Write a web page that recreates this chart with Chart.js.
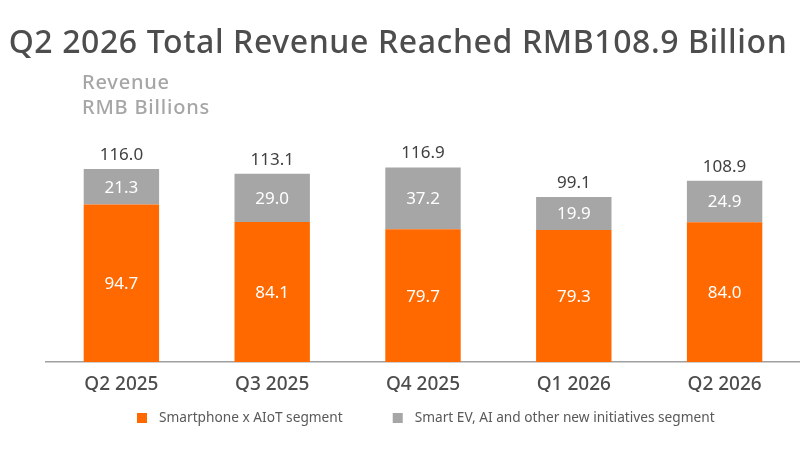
<!DOCTYPE html>
<html>
<head>
<meta charset="utf-8">
<script src="https://cdn.jsdelivr.net/npm/chart.js@4.4.1/dist/chart.umd.min.js"></script>
<style>
  html, body { margin: 0; padding: 0; background: #fff; }
  #wrap { width: 800px; height: 450px; }
</style>
</head>
<body>
<div id="wrap"><canvas id="revChart"></canvas></div>
<script>
// --- data ---
const quarters = ['Q2 2025', 'Q3 2025', 'Q4 2025', 'Q1 2026', 'Q2 2026'];
const smartphoneAiot = [94.7, 84.1, 79.7, 79.3, 84.0];
const smartEv = [21.3, 29.0, 37.2, 19.9, 24.9];
const totals = [116.0, 113.1, 116.9, 99.1, 108.9];

const ORANGE = '#ff6900';
const GRAY = '#a6a6a6';
const FONT = "'Noto Sans', 'Open Sans', sans-serif";

// headings, in-bar values, totals and legend
const overlay = {
    id: 'overlay',
    afterDraw(chart) {
        const { ctx } = chart;
        ctx.save();

        // title
        ctx.fillStyle = '#4d4d4d';
        ctx.font = `500 32px ${FONT}`;
        ctx.letterSpacing = '0.6px';
        ctx.textAlign = 'center';
        ctx.textBaseline = 'alphabetic';
        ctx.fillText('Q2 2026 Total Revenue Reached RMB108.9 Billion', 398, 53);

        // unit caption
        ctx.fillStyle = '#a6a6a6';
        ctx.font = `500 20px ${FONT}`;
        ctx.letterSpacing = '0.8px';
        ctx.textAlign = 'left';
        ctx.fillText('Revenue', 82, 89);
        ctx.fillText('RMB Billions', 82, 114);

        // segment values
        ctx.letterSpacing = '0px';
        ctx.font = `17px ${FONT}`;
        ctx.textAlign = 'center';
        ctx.textBaseline = 'middle';
        ctx.fillStyle = '#ffffff';
        chart.data.datasets.forEach((ds, di) => {
            chart.getDatasetMeta(di).data.forEach((bar, i) => {
                const mid = (bar.y + bar.base) / 2;
                ctx.fillText(ds.data[i].toFixed(1), bar.x, mid + 1);
            });
        });

        // totals above the stack
        ctx.fillStyle = '#404040';
        const top = chart.getDatasetMeta(1).data;
        top.forEach((bar, i) => {
            ctx.fillText(totals[i].toFixed(1), bar.x, bar.y - 14);
        });

        // legend
        ctx.font = `13.7px ${FONT}`;
        ctx.textAlign = 'left';
        let x = 137;
        const y = 418;
        chart.data.datasets.forEach((ds) => {
            ctx.fillStyle = ds.backgroundColor;
            ctx.fillRect(x, y - 5, 10, 10);
            ctx.fillStyle = '#595959';
            ctx.fillText(ds.label, x + 22, y);
            x += 22 + ctx.measureText(ds.label).width + 50;
        });

        ctx.restore();
    }
};

new Chart(document.getElementById('revChart'), {
    type: 'bar',
    data: {
        labels: quarters,
        datasets: [
            {
                label: 'Smartphone x AIoT segment',
                data: smartphoneAiot,
                backgroundColor: ORANGE,
                categoryPercentage: 1,
                barPercentage: 0.5
            },
            {
                label: 'Smart EV, AI and other new initiatives segment',
                data: smartEv,
                backgroundColor: GRAY,
                categoryPercentage: 1,
                barPercentage: 0.5
            }
        ]
    },
    options: {
        responsive: true,
        maintainAspectRatio: false,
        animation: false,
        layout: { padding: { top: 129, left: 46, right: 0, bottom: 58 } },
        plugins: {
            legend: { display: false },
            tooltip: { enabled: false }
        },
        scales: {
            x: {
                stacked: true,
                grid: { display: false, drawTicks: false },
                border: { color: '#a0a0a0', width: 1.5 },
                ticks: {
                    color: '#4d4d4d',
                    font: { family: FONT, size: 19, weight: '500' },
                    padding: 11
                },
                afterFit(scale) { scale.height = 30; }
            },
            y: {
                stacked: true,
                display: false,
                min: 0,
                max: 140
            }
        }
    },
    plugins: [overlay]
});
</script>
</body>
</html>
